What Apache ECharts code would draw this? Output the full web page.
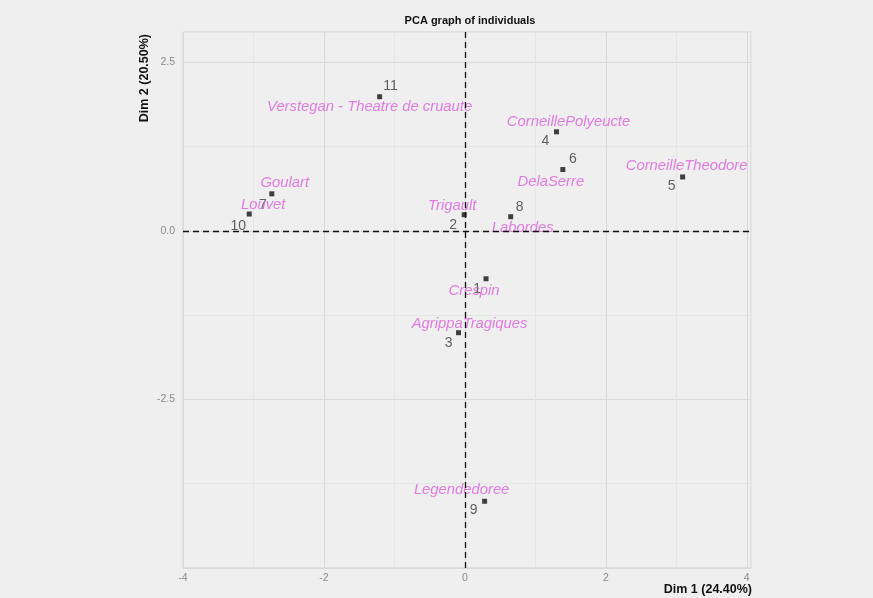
<!DOCTYPE html>
<html>
<head>
<meta charset="utf-8">
<title>PCA graph of individuals</title>
<script src="https://cdn.jsdelivr.net/npm/echarts@6/dist/echarts.min.js"></script>
<style>
  html, body { margin: 0; padding: 0; background: #efefef; }
  #chart { width: 873px; height: 598px; }
</style>
</head>
<body>
<div id="chart"></div>
<script>
// Individuals on the first two principal dimensions
const ids = ['1', '2', '3', '4', '5', '6', '7', '8', '9', '10', '11'];
const names = ['Crespin', 'Trigault', 'AgrippaTragiques', 'CorneillePolyeucte', 'CorneilleTheodore',
  'DelaSerre', 'Goulart', 'Labordes', 'Legendedoree', 'Louvet', 'Verstegan - Theatre de cruaute'];
const dim1 = [0.30, -0.01, -0.09, 1.30, 3.09, 1.39, -2.74, 0.65, 0.28, -3.06, -1.21];
const dim2 = [-0.71, 0.24, -1.51, 1.47, 0.80, 0.91, 0.55, 0.21, -4.01, 0.25, 1.99];
const xTicks = [-4, -2, 0, 2, 4];
const yTicks = [-2.5, 0, 2.5];

// Label placement (pixel offsets from each point), as repelled text
const idOffset = {
  '1': [-9, 10], '2': [-11, 10], '3': [-10, 10], '4': [-11, 9], '5': [-11, 9], '6': [10, -10],
  '7': [-9, 11], '8': [9, -10], '9': [-11, 9], '10': [-11, 12], '11': [11, -11]
};
const nameOffset = {
  '1': [-12, 12], '2': [-12, -9], '3': [11, -9], '4': [12, -10], '5': [4, -11], '6': [-12, 12],
  '7': [13, -11], '8': [12, 11], '9': [-23, -11], '10': [14, -9], '11': [-10, 10]
};

const pts = ids.map((id, i) => ({ id, name: names[i], value: [dim1[i], dim2[i]] }));

const MAJOR = '#d9d9d9', MINOR = '#e5e5e5';
const FONT = 'Liberation Sans, Arial, sans-serif';
const chart = echarts.init(document.getElementById('chart'), null, { renderer: 'canvas' });

chart.setOption({
  backgroundColor: '#efefef',
  animation: false,
  title: {
    text: 'PCA graph of individuals',
    left: 465, top: 10, textAlign: 'center',
    textStyle: { fontFamily: FONT, fontSize: 11, fontWeight: 'bold', color: '#111' }
  },
  grid: { left: 183, right: 122, top: 32, bottom: 30, show: true, borderColor: '#d2d2d2', borderWidth: 1, backgroundColor: 'transparent' },
  xAxis: {
    type: 'value', min: -4, max: 4.06, interval: 1,
    axisLine: { show: false }, axisTick: { show: false },
    axisLabel: {
      showMaxLabel: false, margin: 5, color: '#8a8a8a', fontSize: 10.5, fontFamily: FONT,
      formatter: v => (xTicks.indexOf(Math.round(v * 100) / 100) >= 0 ? String(v) : '')
    },
    splitLine: { show: true, lineStyle: { color: [MAJOR, MINOR], width: 1 } }
  },
  yAxis: {
    type: 'value', min: -5, max: 2.95, interval: 1.25,
    axisLine: { show: false }, axisTick: { show: false },
    axisLabel: {
      showMaxLabel: false, showMinLabel: false, margin: 8, color: '#8a8a8a', fontSize: 10.5, fontFamily: FONT,
      formatter: v => (yTicks.indexOf(Math.round(v * 100) / 100) >= 0 ? v.toFixed(1) : '')
    },
    splitLine: { show: true, lineStyle: { color: [MAJOR, MINOR], width: 1 } }
  },
  graphic: [
    {
      type: 'text', x: 145, y: 34, rotation: Math.PI / 2,
      style: { text: 'Dim 2 (20.50%)', align: 'right', verticalAlign: 'middle',
        font: 'bold 12.5px "Liberation Sans", Arial, sans-serif', fill: '#111' }
    },
    {
      type: 'text', x: 752, y: 590,
      style: { text: 'Dim 1 (24.40%)', align: 'right', verticalAlign: 'middle',
        font: 'bold 12.5px "Liberation Sans", Arial, sans-serif', fill: '#111' }
    }
  ],
  series: [
    {
      // points with their row numbers
      type: 'scatter', symbol: 'rect', symbolSize: 5,
      itemStyle: { color: '#111' },
      data: pts.map(p => ({ name: p.id, value: p.value,
        label: { offset: idOffset[p.id] } })),
      label: {
        show: true, position: 'inside', formatter: '{b}',
        color: '#3a3a3a', fontSize: 14, fontFamily: FONT
      },
      markLine: {
        silent: true, symbol: 'none',
        lineStyle: { color: '#111', type: [6, 4], width: 1.3 },
        label: { show: false },
        data: [{ xAxis: 0 }, { yAxis: 0 }]
      },
      z: 3
    },
    {
      // supplementary names
      type: 'scatter', symbolSize: 0,
      data: pts.map(p => ({ name: p.name, value: p.value,
        label: { offset: nameOffset[p.id] } })),
      label: {
        show: true, position: 'inside', formatter: '{b}',
        color: '#dc5cdc', fontSize: 14.8, fontStyle: 'italic', fontFamily: FONT
      },
      z: 4
    }
  ]
});
</script>
</body>
</html>
